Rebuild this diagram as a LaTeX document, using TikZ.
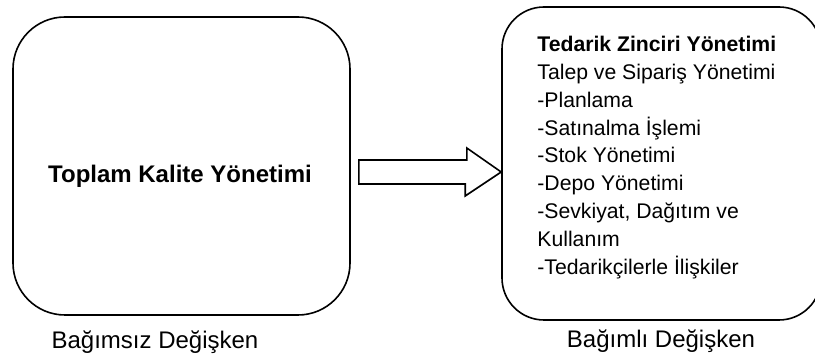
\documentclass[tikz,border=0pt]{standalone}
\usepackage{fontspec}
\setmainfont{Liberation Sans}
\usetikzlibrary{positioning}

\begin{document}
\begin{tikzpicture}[
  x=0.5pt, y=-0.5pt,
  font=\fontsize{12}{14}\selectfont,
  tqmbox/.style={draw=black, line width=0.8pt, rounded corners=26pt, inner sep=0pt,
                 minimum width=168.5pt, minimum height=149pt},
  scmbox/.style={draw=black, line width=0.8pt, rounded corners=21pt, inner sep=0pt,
                 minimum width=159.5pt, minimum height=156.5pt},
  blockarr/.style={draw=black, line width=0.8pt, fill=white, line join=miter},
  lab/.style={anchor=base, inner sep=0pt},
  items/.style={anchor=north west, align=left, inner sep=0pt,
                font=\fontsize{10.6}{13.9}\selectfont}
]
\clip (0,0) rectangle (815,356);
% ----- the two variables -----
\node[tqmbox] (tqm) at (181.5,166) {};
\node[scmbox] (scm) at (661.5,163.5) {};
\node[lab, font=\fontsize{12}{14}\selectfont\bfseries] (tqmtext) at (180,183) {Toplam Kalite Yönetimi};
\node[items] (scmtext) at (537,36)
  {\textbf{Tedarik Zinciri Yönetimi}\\Talep ve Sipariş Yönetimi\\-Planlama\\-Satınalma İşlemi\\-Stok Yönetimi\\-Depo Yönetimi\\-Sevkiyat, Dağıtım ve\\Kullanım\\-Tedarikçilerle İlişkiler};
% ----- block arrow -----
\draw[blockarr] ([shift={(8,-6)}]tqm.east) -- ++(108,0) -- ++(0,-12)
  -- ([shift={(0,8.5)}]scm.west) -- ++(-36,24) -- ++(0,-12)
  -- ([shift={(8,18)}]tqm.east) -- cycle;
% ----- captions -----
\node[lab] (indep) at (155,349) {Bağımsız Değişken};
\node[lab] (dep) at (661,348) {Bağımlı Değişken};
\end{tikzpicture}
\end{document}
